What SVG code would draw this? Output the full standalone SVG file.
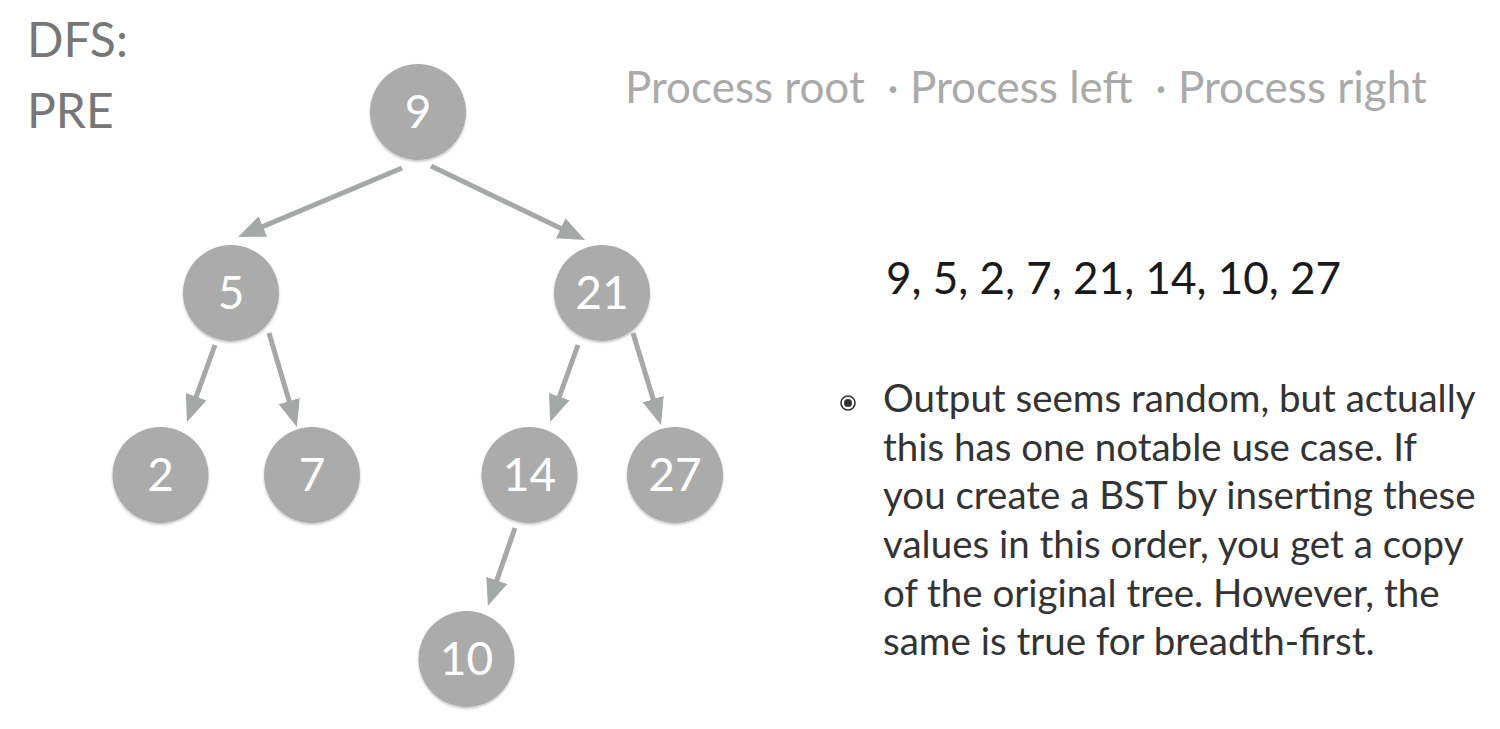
<svg xmlns="http://www.w3.org/2000/svg" width="1500" height="729" viewBox="0 0 1500 729">
<style>
.node{fill:#ababab;filter:url(#sh)}
.nl{font-family:Lato,"Liberation Sans",sans-serif;font-size:46px;fill:#ffffff;text-anchor:middle}
.edge{stroke:#a4a9a7;stroke-width:5;fill:none;marker-end:url(#ah)}
.title{font-family:Lato,"Liberation Sans",sans-serif;font-size:48px;fill:#777777}
.sub{font-family:Lato,"Liberation Sans",sans-serif;font-size:44px;fill:#aaaaaa;white-space:pre}
.seq{font-family:Lato,"Liberation Sans",sans-serif;font-size:44px;fill:#1a1a1a}
.body{font-family:Lato,"Liberation Sans",sans-serif;font-size:38.5px;fill:#333333}
</style>
<defs>
<filter id="sh" x="-20%" y="-20%" width="140%" height="140%">
<feDropShadow dx="0" dy="1.5" stdDeviation="1.2" flood-color="#000" flood-opacity="0.25"/>
</filter>
<marker id="ah" markerUnits="userSpaceOnUse" markerWidth="30" markerHeight="24" refX="19" refY="11" orient="auto">
<path d="M0,0 L27,11 L0,22 z" fill="#a4a9a7"/>
</marker>
</defs>
<text class="title" x="27" y="57">DFS:</text>
<text class="title" x="27" y="128">PRE</text>
<text class="sub" x="625" y="103" xml:space="preserve">Process root  · Process left  · Process right</text>
<g id="connectors">
<line class="edge" x1="402" y1="168" x2="245.4" y2="233.9"/>
<line class="edge" x1="431" y1="166" x2="577.8" y2="236.5"/>
<line class="edge" x1="215" y1="345" x2="189.7" y2="414.5"/>
<line class="edge" x1="269" y1="333" x2="294.6" y2="419.4"/>
<line class="edge" x1="578" y1="345" x2="552.9" y2="414.5"/>
<line class="edge" x1="633" y1="333" x2="658.7" y2="417.3"/>
<line class="edge" x1="515" y1="528" x2="490.5" y2="598.4"/>
</g>
<g id="node-9"><circle class="node" cx="418" cy="112" r="48"/><text class="nl" x="418" y="128">9</text></g>
<g id="node-5"><circle class="node" cx="231" cy="293" r="48"/><text class="nl" x="231" y="309">5</text></g>
<g id="node-21"><circle class="node" cx="602" cy="293" r="48"/><text class="nl" x="602" y="309">21</text></g>
<g id="node-2"><circle class="node" cx="160.5" cy="475" r="48"/><text class="nl" x="160.5" y="491">2</text></g>
<g id="node-7"><circle class="node" cx="312" cy="475" r="48"/><text class="nl" x="312" y="491">7</text></g>
<g id="node-14"><circle class="node" cx="529.5" cy="475" r="48"/><text class="nl" x="529.5" y="491">14</text></g>
<g id="node-27"><circle class="node" cx="675" cy="475" r="48"/><text class="nl" x="675" y="491">27</text></g>
<g id="node-10"><circle class="node" cx="466.5" cy="659" r="48"/><text class="nl" x="466.5" y="675">10</text></g>
<text class="seq" x="886" y="294">9, 5, 2, 7, 21, 14, 10, 27</text>
<g id="bullet">
<circle cx="848" cy="403" r="7" fill="none" stroke="#333333" stroke-width="1.6"/>
<circle cx="848" cy="403" r="4" fill="#333333"/>
</g>
<text class="body">
<tspan x="883" y="412">Output seems random, but actually</tspan>
<tspan x="883" y="461">this has one notable use case. If</tspan>
<tspan x="883" y="509">you create a BST by inserting these</tspan>
<tspan x="883" y="558">values in this order, you get a copy</tspan>
<tspan x="883" y="607">of the original tree. However, the</tspan>
<tspan x="883" y="655">same is true for breadth-first.</tspan>
</text>
</svg>
